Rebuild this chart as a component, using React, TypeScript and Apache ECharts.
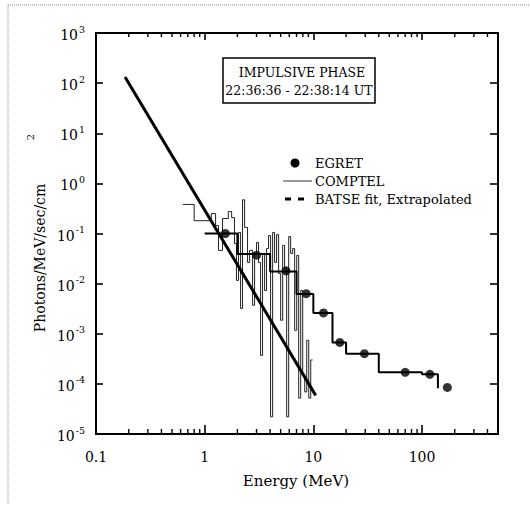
import React, { useEffect, useRef } from 'react';
import * as echarts from 'echarts';

const FONT = 'DejaVu Serif';

// ---- Axis tick labels ----
const xTickLabels = ['0.1', '1', '10', '100'];
const xTickExps = [-1, 0, 1, 2];

// ---- COMPTEL (thin histogram) ----
const comptelEdges = [
  0.63, 0.80, 1.15, 1.26, 1.34, 1.46, 1.65, 1.77, 1.88, 1.96,
  2.05, 2.14, 2.23, 2.33, 2.48, 2.59, 2.76, 2.88, 3.00, 3.13,
  3.27, 3.41, 3.56, 3.71, 3.87, 4.04, 4.22, 4.40, 4.59, 4.79,
  5.00, 5.22, 5.44, 5.68, 5.93, 6.18, 6.45, 6.73, 7.03, 7.33,
  7.65, 7.98, 8.33, 8.69, 9.07, 9.46, 9.85,
];
const comptelFlux = [
  0.38, 0.18, 0.25, 0.144, 0.046, 0.199, 0.274, 0.208, 0.063, 0.0116,
  0.105, 0.0032, 0.47, 0.132, 0.0265, 0.046, 0.0037, 0.040, 0.066, 0.0265,
  3.7e-4, 0.040, 0.0073, 0.050, 0.091, 2.2e-5, 0.105, 0.0265, 0.095, 0.016,
  0.00186, 0.058, 0.020, 2.2e-5, 0.087, 0.040, 0.050, 0.00117, 0.0365, 5.2e-5,
  0.0073, 1.5e-4, 6.9e-5, 7.4e-4, 5.2e-5, 3.0e-4,
];

// ---- EGRET histogram (thick step) ----
const egretEdges = [1, 2, 4, 7, 10, 15, 20, 40, 100, 140];
const egretBinFlux = [0.1, 0.039, 0.0175, 0.0062, 0.0026, 6.7e-4, 4.0e-4, 1.7e-4, 1.55e-4];
const egretTailFlux = 8.2e-5;

// ---- EGRET points ----
const egretE = [1.55, 3.0, 5.6, 8.6, 12.4, 17.5, 29.5, 70, 118, 171];
const egretF = [0.1, 0.037, 0.018, 0.0063, 0.0026, 6.7e-4, 4.0e-4, 1.7e-4, 1.55e-4, 8.5e-5];

// ---- BATSE fit, extrapolated ----
const batseE = [0.185, 10.5];
const batseF = [132, 5.9e-5];

// ---- texts ----
const legendLabels = ['EGRET', 'COMPTEL', 'BATSE fit, Extrapolated'];
const boxLines = ['IMPULSIVE PHASE', '22:36:36 - 22:38:14 UT'];
const yTitle = 'Photons/MeV/sec/cm';
const yTitleSup = '2';
const xTitle = 'Energy (MeV)';

const X_MIN = 0.1, X_MAX = 500, Y_MIN = 1e-5, Y_MAX = 1e3;

function logTicks(min: number, max: number, mantissas: number[]): number[] {
  const out: number[] = [];
  for (let e = Math.floor(Math.log10(min)); e <= Math.ceil(Math.log10(max)); e++) {
    for (const m of mantissas) {
      const v = m * Math.pow(10, e);
      if (v >= min * 0.999 && v <= max * 1.001) out.push(v);
    }
  }
  return out;
}

export default function App() {
  const ref = useRef<HTMLDivElement>(null);

  useEffect(() => {
    if (!ref.current) return;
    const chart = echarts.init(ref.current, null, { renderer: 'svg' });

    const comptelData = comptelEdges.map((e, i) => [e, comptelFlux[Math.min(i, comptelFlux.length - 1)]]);
    const egretStep = egretEdges.map((e, i) => [e, egretBinFlux[Math.min(i, egretBinFlux.length - 1)]]);
    egretStep.push([egretEdges[egretEdges.length - 1], egretTailFlux]);
    const egretPts = egretE.map((e, i) => [e, egretF[i]]);
    const batse = batseE.map((e, i) => [e, batseF[i]]);
    const xMinor = logTicks(X_MIN, X_MAX, [2, 3, 4, 5, 6, 7, 8, 9]).map((v) => [v, 1]);

    const xLabelFmt = (v: number) => {
      const lg = Math.log10(v);
      const e = Math.round(lg);
      if (Math.abs(lg - e) > 1e-6) return '';
      const idx = xTickExps.indexOf(e);
      return idx >= 0 ? xTickLabels[idx] : '';
    };
    const yLabelFmt = (v: number) => {
      const lg = Math.log10(v);
      const e = Math.round(lg);
      if (Math.abs(lg - e) > 1e-6) return '';
      return `{b|10}{s|${e}}`;
    };

    const txt = (text: string, x: number, y: number, size: number, extra: any = {}) => ({
      type: 'text', x, y, z: 11, ...extra,
      style: { text, fontFamily: FONT, fontSize: size, fill: '#000', align: extra.align || 'center', verticalAlign: 'middle' },
    });

    const graphic: any[] = [
      { type: 'line', shape: { x1: 8, y1: 5, x2: 530, y2: 5 }, style: { stroke: '#888', lineWidth: 1, lineDash: [1, 1] } },
      { type: 'line', shape: { x1: 8, y1: 5, x2: 8, y2: 505 }, style: { stroke: '#888', lineWidth: 1, lineDash: [1, 1] } },
      txt(yTitle, 40, 258, 14, { rotation: Math.PI / 2 }),
      txt(yTitleSup, 30, 137, 10, { rotation: Math.PI / 2 }),
      txt(xTitle, 296, 481, 15),
      { type: 'rect', shape: { x: 223, y: 58, width: 152, height: 45 }, style: { fill: '#fff', stroke: '#000', lineWidth: 1.5 }, z: 10 },
      txt(boxLines[0], 302, 72, 12.5),
      txt(boxLines[1], 299, 90, 12.5),
      { type: 'circle', shape: { cx: 295, cy: 163, r: 4.5 }, style: { fill: '#000' }, z: 11 },
      txt(legendLabels[0], 315, 163, 13, { align: 'left' }),
      { type: 'line', shape: { x1: 283, y1: 181, x2: 312, y2: 181 }, style: { stroke: '#333', lineWidth: 1 }, z: 11 },
      txt(legendLabels[1], 315, 181, 13, { align: 'left' }),
      { type: 'rect', shape: { x: 285, y: 197.5, width: 6, height: 3 }, style: { fill: '#000' }, z: 11 },
      { type: 'rect', shape: { x: 298, y: 197.5, width: 6, height: 3 }, style: { fill: '#000' }, z: 11 },
      txt(legendLabels[2], 315, 199, 13, { align: 'left' }),
    ];

    const axisLine = { show: true, onZero: false, lineStyle: { color: '#000', width: 2 } };

    const option: any = {
      animation: false,
      backgroundColor: '#fff',
      textStyle: { fontFamily: FONT },
      grid: { left: 96, right: 32, top: 33, bottom: 71 },
      xAxis: [
        {
          type: 'log', logBase: 10, min: X_MIN, max: X_MAX, position: 'bottom',
          splitLine: { show: false }, axisLine,
          axisTick: { show: true, inside: true, length: 9, lineStyle: { color: '#000', width: 1.6 } },
          axisLabel: { formatter: xLabelFmt, margin: 16, color: '#000', fontFamily: FONT, fontSize: 14, showMaxLabel: false },
        },
        {
          type: 'log', logBase: 10, min: X_MIN, max: X_MAX, position: 'top',
          splitLine: { show: false }, axisLine,
          axisTick: { show: true, inside: true, length: 7, lineStyle: { color: '#000', width: 1.6 } },
          axisLabel: { show: false },
        },
      ],
      yAxis: [
        {
          type: 'log', logBase: 10, min: Y_MIN, max: Y_MAX, position: 'left',
          splitLine: { show: false }, axisLine,
          axisTick: { show: true, inside: true, length: 7, lineStyle: { color: '#000', width: 1.6 } },
          axisLabel: {
            formatter: yLabelFmt, margin: 11, color: '#000', fontFamily: FONT,
            rich: {
              b: { fontSize: 14, fontFamily: FONT, color: '#000', lineHeight: 18, verticalAlign: 'bottom' },
              s: { fontSize: 9.5, fontFamily: FONT, color: '#000', lineHeight: 18, verticalAlign: 'top', padding: [0, 0, 0, 1] },
            },
          },
        },
        {
          type: 'log', logBase: 10, min: Y_MIN, max: Y_MAX, position: 'right',
          splitLine: { show: false }, axisLine,
          axisTick: { show: true, inside: true, length: 8, lineStyle: { color: '#000', width: 1.6 } },
          axisLabel: { show: false },
        },
      ],
      series: [
        {
          type: 'custom', name: 'minorTicks', xAxisIndex: 0, yAxisIndex: 0, clip: false,
          data: xMinor,
          renderItem: (params: any, api: any) => {
            const p = api.coord([api.value(0), api.value(1)]);
            const cs = params.coordSys;
            return {
              type: 'group',
              children: [
                { type: 'rect', shape: { x: p[0] - 0.7, y: cs.y + cs.height - 5, width: 1.4, height: 5 }, style: { fill: '#000' } },
                { type: 'rect', shape: { x: p[0] - 0.7, y: cs.y, width: 1.4, height: 4 }, style: { fill: '#000' } },
              ],
            };
          },
          z: 6,
        },
        {
          type: 'line', name: 'COMPTEL', data: comptelData, step: 'end',
          showSymbol: false, symbol: 'none', lineStyle: { color: '#222', width: 1 }, z: 2,
        },
        {
          type: 'line', name: 'EGRET step', data: egretStep, step: 'end',
          showSymbol: false, symbol: 'none', lineStyle: { color: '#000', width: 2 }, z: 3,
        },
        {
          type: 'line', name: 'BATSE', data: batse,
          showSymbol: false, symbol: 'none', lineStyle: { color: '#000', width: 3 }, z: 4,
        },
        {
          type: 'scatter', name: 'EGRET', data: egretPts,
          symbol: 'circle', symbolSize: 9, itemStyle: { color: '#000' }, z: 5,
        },
      ],
      graphic,
    };

    chart.setOption(option);
    return () => chart.dispose();
  }, []);

  return (
    <div
      ref={ref}
      style={{ position: 'absolute', left: 0, top: 0, width: 530, height: 505, background: '#fff' }}
    />
  );
}
